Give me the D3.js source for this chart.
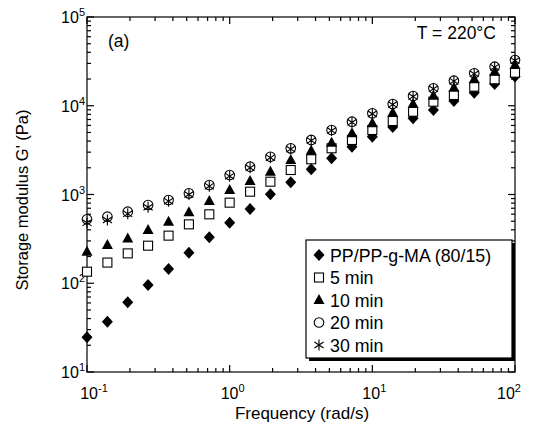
<!DOCTYPE html>
<html>
<head>
<meta charset="utf-8">
<script src="https://d3js.org/d3.v7.min.js"></script>
<style>
  body { margin: 0; background: #fff; }
  svg { font-family: "Liberation Sans", Arial, sans-serif; }
</style>
</head>
<body>
<div id="chart"></div>
<script>
// frequency (rad/s)
var freq = [0.1, 0.139, 0.193, 0.268, 0.373, 0.518, 0.72, 1, 1.39, 1.93, 2.68,
            3.73, 5.18, 7.2, 10, 13.9, 19.3, 26.8, 37.3, 51.8, 72, 100];

// storage modulus G' (Pa)
var gBlend = [24.6, 36.9, 61, 95.5, 145, 221, 330, 481, 687, 1005, 1371,
              1928, 2557, 3456, 4480, 5764, 7228, 8958, 11320, 14030, 17570, 21380];
var g5 = [135, 171, 217, 265, 344, 461, 598, 809, 1076, 1394, 1888,
          2494, 3317, 4115, 5330, 6730, 8570, 11110, 13220, 16400, 19860, 23590];
var g10 = [227, 270, 320, 398, 494, 630, 845, 1124, 1419, 1807, 2447,
           3118, 3836, 4889, 6338, 8350, 10470, 12990, 15990, 19860, 24190, 28770];
var g20 = [525, 562, 640, 762, 867, 1030, 1279, 1659, 2056, 2664, 3311,
           4115, 5330, 6610, 8220, 10470, 12880, 15740, 19170, 23190, 27540, 32770];
var g30 = [480, 516, 606, 718, 840, 1000, 1240, 1610, 2000, 2600, 3250,
           4050, 5250, 6500, 8100, 10300, 12700, 15500, 18900, 22900, 27200, 32300];

var seriesNames = ["PP/PP-g-MA (80/15)", "5 min", "10 min", "20 min", "30 min"];
var seriesSymbols = ["diamond", "square", "triangle", "circle", "star"];
var seriesValues = [gBlend, g5, g10, g20, g30];

var xTickExp = [-1, 0, 1, 2];
var yTickExp = [1, 2, 3, 4, 5];

function drawChart() {
  var W = 535, H = 429;
  var pl = 87, pr = 515, pt = 17, pb = 372;

  var svg = d3.select("#chart").append("svg")
      .attr("width", W)
      .attr("height", H);

  var x = d3.scaleLog().domain([0.1, 100]).range([pl, pr]);
  var y = d3.scaleLog().domain([10, 1e5]).range([pb, pt]);

  // minor + major tick values
  function logTicks(lo, hi) {
    var out = [];
    for (var e = lo; e < hi; e++) {
      for (var m = 1; m < 10; m++) out.push({v: m * Math.pow(10, e), major: m === 1});
    }
    out.push({v: Math.pow(10, hi), major: true});
    return out;
  }
  var xt = logTicks(-1, 2), yt = logTicks(1, 5);

  var axes = svg.append("g").attr("stroke", "#000").attr("stroke-width", 1.2);

  // frame
  axes.append("rect")
      .attr("x", pl).attr("y", pt)
      .attr("width", pr - pl).attr("height", pb - pt)
      .attr("fill", "none");

  // inward ticks on all four sides
  axes.selectAll(".xb").data(xt).enter().append("line")
      .attr("x1", function(d) { return x(d.v); }).attr("x2", function(d) { return x(d.v); })
      .attr("y1", pb).attr("y2", function(d) { return pb - (d.major ? 7 : 4); });
  axes.selectAll(".xt").data(xt).enter().append("line")
      .attr("x1", function(d) { return x(d.v); }).attr("x2", function(d) { return x(d.v); })
      .attr("y1", pt).attr("y2", function(d) { return pt + (d.major ? 7 : 4); });
  axes.selectAll(".yl").data(yt).enter().append("line")
      .attr("y1", function(d) { return y(d.v); }).attr("y2", function(d) { return y(d.v); })
      .attr("x1", pl).attr("x2", function(d) { return pl + (d.major ? 7 : 4); });
  axes.selectAll(".yr").data(yt).enter().append("line")
      .attr("y1", function(d) { return y(d.v); }).attr("y2", function(d) { return y(d.v); })
      .attr("x1", pr).attr("x2", function(d) { return pr - (d.major ? 7 : 4); });

  // tick labels (10^n)
  var fs = 16;
  var xShift = {"-1": 7, "0": 3, "1": 2, "2": -6};
  var xl = svg.append("g").selectAll("text").data(xTickExp).enter().append("text")
      .attr("x", function(d) { return x(Math.pow(10, d)) + xShift[d]; })
      .attr("y", pb + 27)
      .attr("text-anchor", "middle")
      .attr("font-size", fs);
  xl.append("tspan").text("10");
  xl.append("tspan").attr("dy", -7).attr("font-size", 11).text(function(d) { return d < 0 ? "-" + (-d) : d; });

  var yl = svg.append("g").selectAll("text").data(yTickExp).enter().append("text")
      .attr("x", pl - 2)
      .attr("y", function(d) { return y(Math.pow(10, d)) + 6; })
      .attr("text-anchor", "end")
      .attr("font-size", fs);
  yl.append("tspan").text("10");
  yl.append("tspan").attr("dy", -7).attr("font-size", 11).text(function(d) { return d; });

  // axis titles
  svg.append("text")
      .attr("x", 302).attr("y", 419)
      .attr("text-anchor", "middle").attr("font-size", 17)
      .text("Frequency (rad/s)");
  svg.append("text")
      .attr("transform", "translate(28,200) rotate(-90)")
      .attr("text-anchor", "middle").attr("font-size", 16.5)
      .text("Storage modulus G' (Pa)");

  // annotations
  svg.append("text").attr("x", 108).attr("y", 47).attr("font-size", 17.5).text("(a)");
  svg.append("text").attr("x", 496).attr("y", 39).attr("text-anchor", "end").attr("font-size", 17.5).text("T = 220\u00B0C");

  // symbols
  function drawSymbol(g, type, cx, cy) {
    if (type === "diamond") {
      g.append("path").attr("d", "M" + cx + "," + (cy - 6) + "L" + (cx + 5.5) + "," + cy +
          "L" + cx + "," + (cy + 6) + "L" + (cx - 5.5) + "," + cy + "Z").attr("fill", "#000");
    } else if (type === "square") {
      g.append("rect").attr("x", cx - 4.5).attr("y", cy - 4.5).attr("width", 9).attr("height", 9)
          .attr("fill", "#fff").attr("stroke", "#000").attr("stroke-width", 1.1);
    } else if (type === "triangle") {
      g.append("path").attr("d", "M" + cx + "," + (cy - 6) + "L" + (cx + 5.5) + "," + (cy + 4) +
          "L" + (cx - 5.5) + "," + (cy + 4) + "Z").attr("fill", "#000");
    } else if (type === "circle") {
      g.append("circle").attr("cx", cx).attr("cy", cy).attr("r", 4.8)
          .attr("fill", "none").attr("stroke", "#000").attr("stroke-width", 1.1);
    } else if (type === "star") {
      var r = 5.5, a = Math.PI / 3.2;
      g.append("path").attr("d",
          "M" + cx + "," + (cy - r) + "L" + cx + "," + (cy + r) +
          "M" + (cx - r * Math.sin(a)) + "," + (cy - r * Math.cos(a)) + "L" + (cx + r * Math.sin(a)) + "," + (cy + r * Math.cos(a)) +
          "M" + (cx + r * Math.sin(a)) + "," + (cy - r * Math.cos(a)) + "L" + (cx - r * Math.sin(a)) + "," + (cy + r * Math.cos(a)))
          .attr("stroke", "#000").attr("stroke-width", 1.1).attr("fill", "none");
    }
  }

  var marks = svg.append("g");
  seriesValues.forEach(function(vals, si) {
    vals.forEach(function(v, i) {
      drawSymbol(marks, seriesSymbols[si], x(freq[i]), y(v));
    });
  });

  // legend with drop shadow
  var lg = svg.append("g");
  var lx = 306, ly = 240, lw = 206, lh = 118;
  lg.append("rect").attr("x", lx + 3).attr("y", ly + 3).attr("width", lw).attr("height", lh).attr("fill", "#000");
  lg.append("rect").attr("x", lx).attr("y", ly).attr("width", lw).attr("height", lh)
      .attr("fill", "#fff").attr("stroke", "#000").attr("stroke-width", 1.2);
  seriesNames.forEach(function(name, i) {
    var cy = ly + 15 + i * 22.5;
    drawSymbol(lg, seriesSymbols[i], lx + 13, cy);
    lg.append("text").attr("x", lx + 24).attr("y", cy + 6.5).attr("font-size", 17.8).text(name);
  });
}

drawChart();
</script>
</body>
</html>
